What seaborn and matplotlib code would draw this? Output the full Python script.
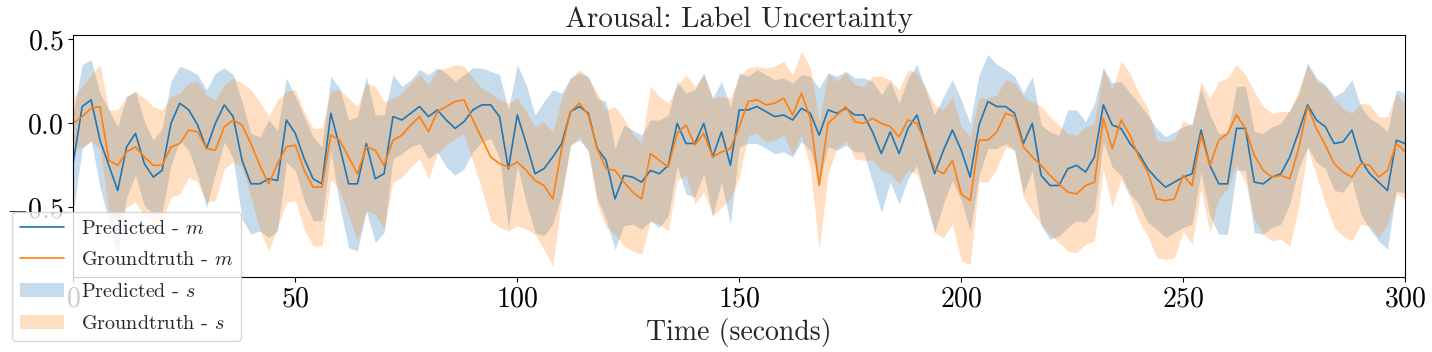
import numpy as np
import pandas as pd
import matplotlib
matplotlib.use('Agg')
import matplotlib.pyplot as plt
import seaborn as sns

# time grid (seconds), one reading every 2 s
seconds = np.arange(0, 301, 2)

# predicted mean (m) and spread (s)
pred_m = [-0.23, 0.10, 0.14, -0.10, -0.25, -0.40, -0.14, -0.06, -0.24, -0.32,
          -0.28, 0.00, 0.12, 0.08, -0.01, -0.15, 0.00, 0.11, 0.04, -0.22,
          -0.36, -0.36, -0.33, -0.34, 0.02, -0.06, -0.21, -0.33, -0.36, 0.06,
          -0.14, -0.36, -0.36, -0.12, -0.33, -0.30, 0.04, 0.02, 0.06, 0.10,
          0.04, 0.08, 0.02, -0.03, 0.01, 0.08, 0.11, 0.11, 0.04, -0.27,
          0.05, -0.12, -0.30, -0.27, -0.20, -0.12, 0.07, 0.10, 0.06, -0.15,
          -0.22, -0.45, -0.31, -0.32, -0.35, -0.28, -0.30, -0.25, 0.00, -0.12,
          -0.12, 0.00, -0.20, -0.05, -0.25, 0.08, 0.08, 0.10, 0.07, 0.04,
          0.05, 0.02, 0.09, 0.06, -0.07, 0.08, 0.06, 0.09, 0.05, 0.05,
          -0.05, -0.18, -0.05, -0.18, -0.03, 0.05, -0.13, -0.30, -0.16, -0.04,
          -0.16, -0.32, -0.01, 0.13, 0.10, 0.10, 0.06, -0.12, 0.00, -0.31,
          -0.37, -0.37, -0.27, -0.25, -0.29, -0.20, 0.11, -0.01, -0.03, -0.12,
          -0.18, -0.27, -0.33, -0.38, -0.35, -0.32, -0.30, -0.04, -0.25, -0.36,
          -0.36, -0.03, -0.03, -0.35, -0.36, -0.32, -0.30, -0.20, -0.05, 0.11,
          0.02, -0.02, -0.12, -0.11, -0.04, -0.22, -0.30, -0.35, -0.40, -0.10,
          -0.12]
pred_s = [0.30, 0.25, 0.24, 0.28, 0.33, 0.38, 0.30, 0.25, 0.25, 0.22,
          0.25, 0.25, 0.22, 0.24, 0.30, 0.35, 0.30, 0.22, 0.25, 0.35,
          0.30, 0.28, 0.35, 0.30, 0.25, 0.22, 0.25, 0.25, 0.22, 0.22,
          0.35, 0.38, 0.40, 0.40, 0.38, 0.35, 0.25, 0.20, 0.20, 0.22,
          0.25, 0.25, 0.28, 0.28, 0.28, 0.25, 0.22, 0.20, 0.25, 0.35,
          0.30, 0.35, 0.35, 0.40, 0.40, 0.30, 0.20, 0.20, 0.22, 0.30,
          0.35, 0.30, 0.30, 0.28, 0.28, 0.30, 0.32, 0.30, 0.25, 0.30,
          0.32, 0.30, 0.35, 0.30, 0.35, 0.22, 0.20, 0.22, 0.22, 0.22,
          0.22, 0.22, 0.20, 0.22, 0.28, 0.22, 0.22, 0.22, 0.22, 0.22,
          0.30, 0.35, 0.30, 0.30, 0.30, 0.30, 0.33, 0.35, 0.32, 0.30,
          0.30, 0.32, 0.30, 0.28, 0.25, 0.22, 0.22, 0.30, 0.28, 0.30,
          0.32, 0.30, 0.35, 0.33, 0.30, 0.32, 0.22, 0.25, 0.28, 0.30,
          0.30, 0.32, 0.30, 0.30, 0.30, 0.30, 0.30, 0.25, 0.30, 0.30,
          0.30, 0.25, 0.25, 0.30, 0.30, 0.30, 0.30, 0.28, 0.22, 0.25,
          0.25, 0.25, 0.28, 0.30, 0.30, 0.32, 0.33, 0.35, 0.35, 0.30,
          0.30]

# groundtruth mean (m) and spread (s)
gt_m = [0.00, 0.04, 0.09, 0.10, -0.22, -0.25, -0.17, -0.14, -0.20, -0.25,
        -0.25, -0.14, -0.12, -0.04, -0.05, -0.15, -0.16, -0.02, 0.02, -0.01,
        -0.12, -0.25, -0.36, -0.24, -0.14, -0.13, -0.28, -0.38, -0.38, -0.07,
        -0.10, -0.20, -0.30, -0.14, -0.16, -0.25, -0.10, -0.07, -0.01, 0.04,
        -0.05, 0.07, 0.10, 0.13, 0.14, 0.02, -0.09, -0.20, -0.24, -0.26,
        -0.23, -0.28, -0.34, -0.37, -0.45, -0.15, 0.07, 0.12, 0.05, -0.15,
        -0.27, -0.28, -0.35, -0.41, -0.45, -0.18, -0.22, -0.26, -0.06, -0.01,
        -0.13, -0.06, -0.20, -0.17, -0.15, -0.02, 0.13, 0.14, 0.11, 0.12,
        0.15, 0.05, 0.18, 0.03, -0.37, 0.00, 0.05, 0.10, 0.01, 0.00,
        0.03, 0.00, -0.02, -0.08, 0.02, 0.00, -0.12, -0.27, -0.30, -0.22,
        -0.42, -0.46, -0.10, -0.10, -0.05, 0.06, 0.04, -0.14, -0.20, -0.25,
        -0.31, -0.36, -0.41, -0.42, -0.37, -0.35, 0.03, -0.15, 0.02, -0.07,
        -0.20, -0.29, -0.45, -0.46, -0.45, -0.31, -0.37, -0.07, -0.25, -0.10,
        -0.06, 0.05, -0.03, -0.19, -0.28, -0.32, -0.31, -0.33, -0.15, 0.10,
        -0.03, -0.13, -0.24, -0.29, -0.32, -0.24, -0.25, -0.32, -0.28, -0.12,
        -0.17]
gt_s = [0.15, 0.18, 0.20, 0.25, 0.30, 0.33, 0.33, 0.33, 0.35, 0.35,
        0.33, 0.30, 0.30, 0.28, 0.30, 0.32, 0.30, 0.25, 0.25, 0.25,
        0.32, 0.38, 0.40, 0.38, 0.33, 0.33, 0.35, 0.35, 0.35, 0.26,
        0.30, 0.35, 0.40, 0.38, 0.38, 0.38, 0.25, 0.25, 0.25, 0.25,
        0.28, 0.25, 0.23, 0.22, 0.20, 0.25, 0.30, 0.38, 0.38, 0.38,
        0.38, 0.35, 0.32, 0.38, 0.40, 0.30, 0.20, 0.20, 0.22, 0.33,
        0.35, 0.38, 0.38, 0.35, 0.33, 0.40, 0.38, 0.38, 0.28, 0.30,
        0.35, 0.35, 0.35, 0.33, 0.30, 0.30, 0.20, 0.20, 0.22, 0.22,
        0.22, 0.24, 0.25, 0.30, 0.38, 0.30, 0.20, 0.20, 0.22, 0.22,
        0.25, 0.28, 0.28, 0.28, 0.30, 0.30, 0.33, 0.38, 0.38, 0.38,
        0.40, 0.38, 0.25, 0.25, 0.22, 0.20, 0.20, 0.30, 0.33, 0.35,
        0.35, 0.35, 0.35, 0.35, 0.35, 0.35, 0.30, 0.35, 0.35, 0.37,
        0.38, 0.38, 0.35, 0.35, 0.35, 0.33, 0.35, 0.32, 0.40, 0.35,
        0.33, 0.30, 0.32, 0.38, 0.38, 0.38, 0.38, 0.40, 0.35, 0.25,
        0.28, 0.35, 0.38, 0.38, 0.38, 0.36, 0.36, 0.36, 0.32, 0.30,
        0.28]

df = pd.DataFrame({'time': seconds, 'pred_m': pred_m, 'pred_s': pred_s,
                   'gt_m': gt_m, 'gt_s': gt_s})

sns.set_style('ticks')
plt.rcParams['font.family'] = 'serif'
plt.rcParams['font.serif'] = ['cmr10']
plt.rcParams['mathtext.fontset'] = 'cm'
plt.rcParams['axes.formatter.use_mathtext'] = True
plt.rcParams['axes.edgecolor'] = 'black'

blue = '#1f77b4'
orange = '#ff7f0e'

fig = plt.figure(figsize=(14.32, 3.52), dpi=100)
ax = fig.add_axes([0.0512, 0.2139, 0.9301, 0.6867])

sns.lineplot(data=df, x='time', y='pred_m', color=blue, lw=1.2,
             label='Predicted - $m$', ax=ax)
sns.lineplot(data=df, x='time', y='gt_m', color=orange, lw=1.2,
             label='Groundtruth - $m$', ax=ax)
ax.fill_between(df['time'], df['pred_m'] - df['pred_s'], df['pred_m'] + df['pred_s'],
                color=blue, alpha=0.25, lw=0, label='Predicted - $s$')
ax.fill_between(df['time'], df['gt_m'] - df['gt_s'], df['gt_m'] + df['gt_s'],
                color=orange, alpha=0.25, lw=0, label='Groundtruth - $s$')

ax.set_xlim(0, 300)
ax.set_ylim(-0.913, 0.526)
ax.set_xticks([0, 50, 100, 150, 200, 250, 300])
ax.set_yticks([-0.5, 0.0, 0.5])
ax.tick_params(labelsize=20, colors='black')
ax.set_xlabel('Time (seconds)', fontsize=20)
ax.set_ylabel('')
ax.set_title('Arousal: Label Uncertainty', fontsize=21)

ax.legend(loc='lower left', bbox_to_anchor=(0.0084, 0.031),
          bbox_transform=fig.transFigure, borderaxespad=0,
          fontsize=14.5, framealpha=0.8, handlelength=2.2, labelspacing=0.68)

fig.savefig('out.png', dpi=100)
